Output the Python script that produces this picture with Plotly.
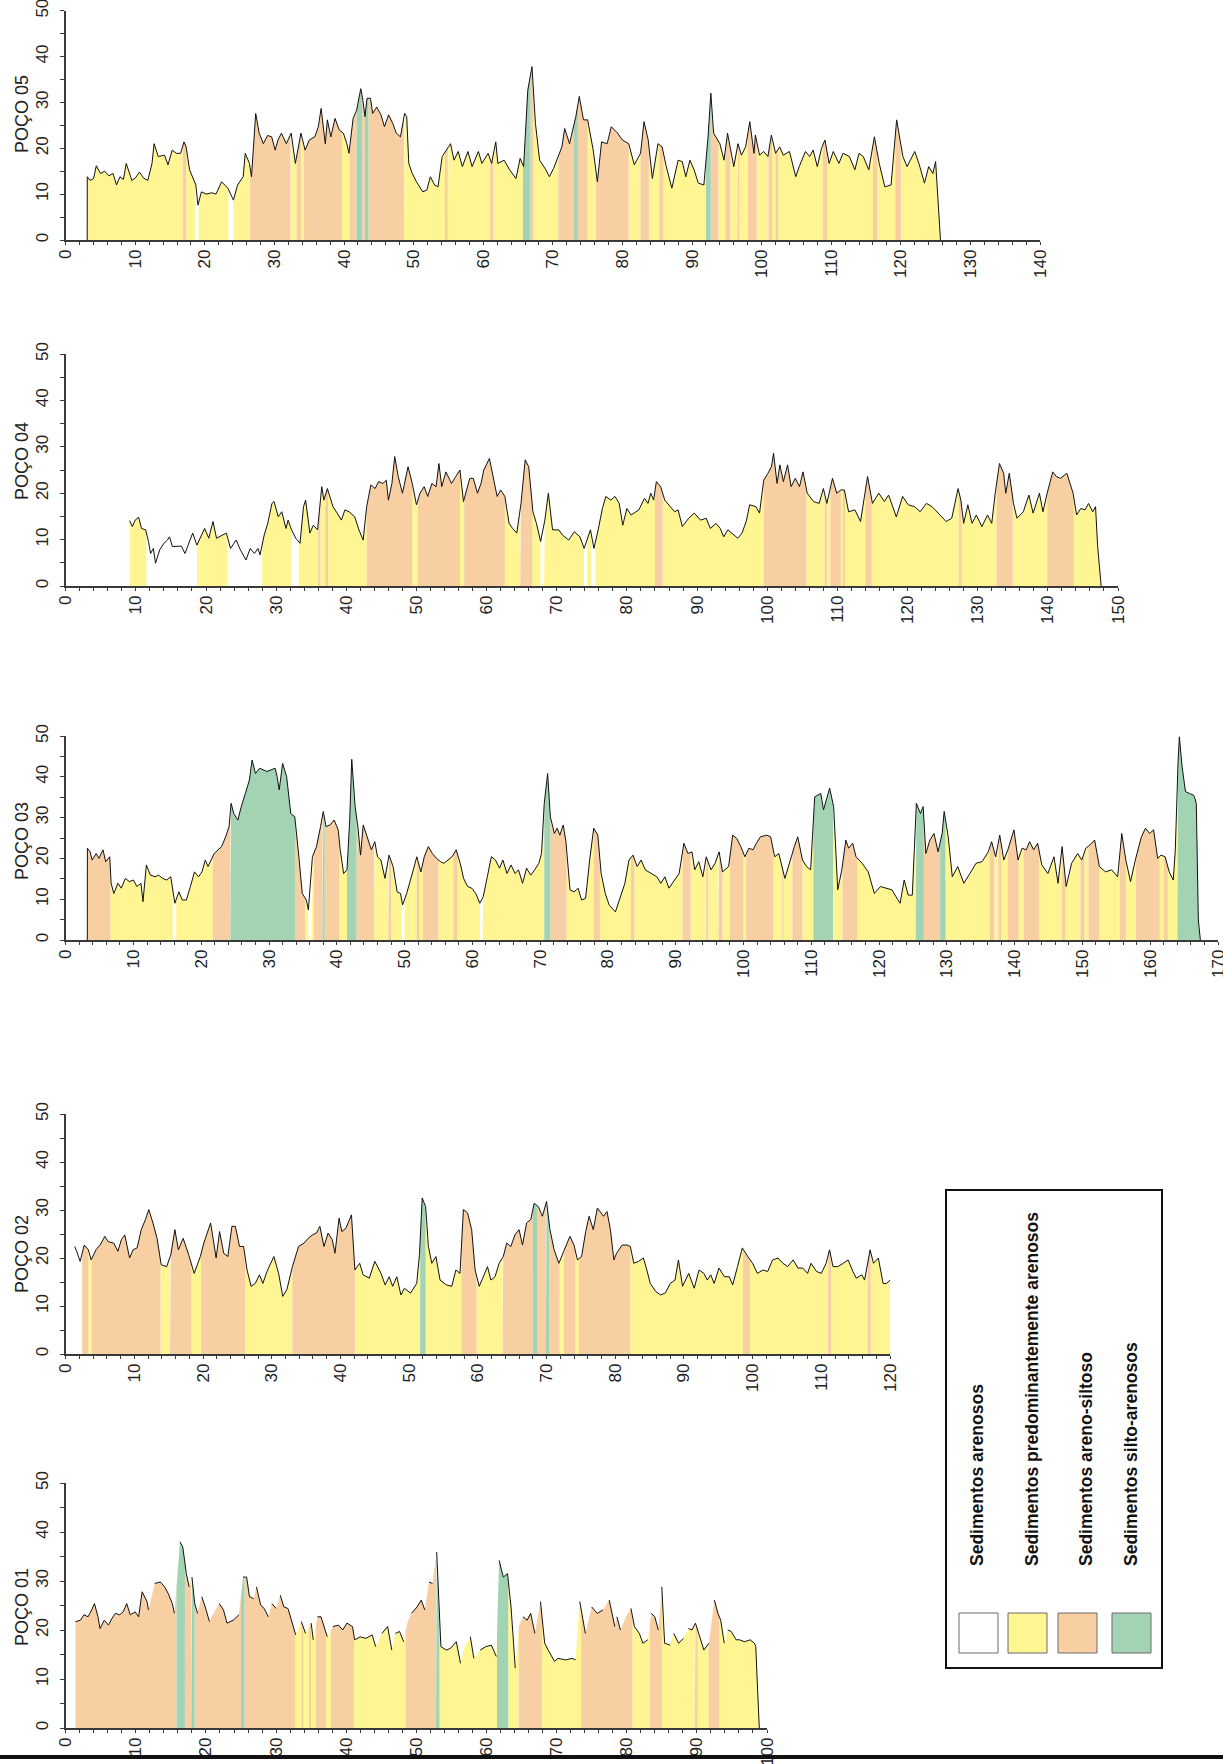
import numpy as np
import plotly.graph_objects as go

W, H = 1223, 1764

wells = ["POÇO 05", "POÇO 04", "POÇO 03", "POÇO 02", "POÇO 01"]
x_max = [140, 150, 170, 120, 100]

# ---------------- data (depth, value) ----------------
p05_depth = [3.09,3.1,3.5,4.0,4.4,5.0,5.6,6.2,6.8,7.3,7.8,8.3,8.7,9.5,10.0,10.6,11.2,11.8,12.4,12.7,13.3,13.9,14.2,14.7,15.3,15.9,16.5,17.0,17.3,17.8,18.4,18.7,19.0,19.5,20.2,21.0,21.6,22.4,23.3,24.1,24.7,25.5,25.8,26.4,26.7,27.3,27.8,28.4,29.0,29.6,30.1,30.5,31.0,31.7,32.4,33.0,33.8,34.4,35.0,35.8,36.3,36.7,37.3,37.6,38.1,38.7,39.3,39.9,40.4,40.7,41.3,41.8,42.4,42.7,43.0,43.3,43.8,44.1,44.7,45.3,45.8,46.4,47.0,47.5,48.1,48.7,49.0,49.3,49.8,50.4,51.3,51.9,52.4,53.0,53.5,54.1,55.0,55.3,55.8,56.4,57.0,57.8,58.4,59.3,59.8,60.7,61.2,61.8,62.1,63.0,63.8,64.7,65.3,65.8,66.4,67.0,67.5,68.1,69.0,69.5,70.1,71.3,71.7,72.4,73.3,73.8,74.4,75.0,75.8,76.4,77.0,77.8,78.4,79.3,80.0,80.9,81.7,82.6,83.1,83.7,84.3,85.1,85.7,86.3,87.1,88.0,88.6,89.1,89.7,90.3,90.9,91.7,92.3,92.7,93.1,94.0,94.6,95.1,96.0,96.6,97.1,97.7,98.3,98.9,99.1,99.7,100.3,100.9,101.4,102.0,102.6,103.1,104.0,104.9,105.4,106.3,106.9,107.4,108.0,108.6,109.1,109.7,110.3,111.1,111.7,112.6,113.4,114.0,114.6,115.4,116.2,116.9,117.7,118.6,119.4,120.3,120.9,122.0,122.6,123.4,124.0,124.6,125.0,125.7]
p05_value = [0,13.8,13,13.4,16.2,14.5,15,14,14.5,12,13.8,13.2,16.7,13,13.5,14.8,13.5,13,16.7,21,18.2,18.5,18.5,16.4,19.6,18.9,18.9,21.4,20.3,15.3,13,12,7.6,10.5,10,10.3,10,12.7,11.3,8.7,12,13.8,18.9,16.7,13.8,27.6,23.3,21,22.8,22.5,19.6,21.8,23.3,21,23.3,16.7,23.3,19.6,21.8,22.5,24.7,28.7,21,26.2,22.5,26.5,24,23.3,21,18.9,26.5,28.3,33,30.5,26.9,30.9,30.9,27.6,29,27.3,24.7,27.3,25.4,23.3,22.5,27.6,26.9,16.7,14.5,12.7,10.5,10.9,13.8,12,11.6,18.2,20.3,21,17.4,19.3,16,19.3,16,19.3,16.7,18.9,16.7,21.4,16.7,17.4,15.3,13.4,17.8,16,32.7,37.8,25.4,17.4,15.3,13.8,15.6,20.3,24.3,21,26.9,31.3,26.2,26.2,19.6,12.7,21.4,21,24.7,23.3,21.8,21,16.4,18.9,25.8,21.8,13.4,21,20.3,16,11.3,17.4,17.1,13.8,17.4,15.3,12.4,12,22.5,32,23.3,21,17.4,23.3,16,21,18.5,20.3,25.8,18.9,22.9,18.5,19.3,18.2,22.9,18.9,20.3,18.5,19.3,13.8,16,19.3,18.2,19.6,16,20,21.8,16.7,19.3,16.7,18.9,18.2,15.3,18.9,18.2,15.3,22.5,16.7,11.6,12,26.2,18.2,16,19.3,16.7,12.4,16,14.5,17.1,0]
p05_bounds = [3.1,16.8,17.3,18.6,19.1,23.4,24.1,26.5,32.3,33.2,33.8,34.2,39.7,40.8,41.8,42.6,43.0,43.5,48.6,54.5,54.9,61.0,61.4,65.7,66.8,67.2,70.8,73.0,73.6,75.0,76.2,80.9,82.6,83.8,85.3,85.9,92.0,92.7,93.8,94.8,95.5,96.5,96.8,98.0,99.3,101.0,101.5,102.0,102.4,108.8,109.4,116.0,116.6,119.2,120.0,125.7]
p05_class = ["Y","O","Y","W","Y","W","Y","O","Y","O","Y","O","Y","O","G","O","G","O","Y","O","Y","O","Y","G","O","Y","O","G","O","Y","O","Y","O","Y","O","Y","G","O","Y","O","Y","O","Y","O","Y","O","Y","O","Y","O","Y","O","Y","O","Y"]

p04_depth = [9.1,9.5,9.9,10.4,10.8,11.4,11.8,12.1,12.5,12.8,13.4,14.0,14.5,14.8,15.2,15.9,16.5,17.0,17.6,18.1,18.7,19.3,19.8,20.4,21.0,21.5,22.4,22.9,23.5,24.3,24.9,25.7,26.3,26.9,27.4,27.7,28.3,28.8,29.4,29.7,30.3,30.8,31.4,31.7,32.2,32.8,33.4,33.9,34.2,34.8,35.3,35.9,36.5,36.8,37.3,38.1,38.7,39.3,39.8,40.4,41.2,41.8,42.4,42.9,43.5,44.1,44.6,45.2,45.7,46.0,46.5,46.9,47.4,48.0,48.8,49.4,50.0,50.5,51.1,51.6,52.2,52.8,53.2,53.6,54.2,55.0,55.6,56.2,56.7,57.6,58.1,58.7,59.2,59.6,60.4,60.9,61.5,62.0,62.6,63.2,63.7,64.3,64.9,65.5,66.0,66.6,67.1,67.7,68.3,68.8,69.4,70.3,70.8,71.7,72.5,73.3,73.9,74.8,75.3,75.9,76.5,77.0,77.7,78.3,78.9,79.4,80.0,80.6,81.7,82.5,83.0,83.4,83.8,84.2,84.8,85.4,86.2,86.8,87.3,87.9,88.8,89.6,90.5,91.3,91.9,92.7,93.3,93.8,94.4,95.3,95.8,96.4,97.0,97.5,98.4,98.9,99.5,100.1,100.6,100.9,101.4,101.8,102.3,102.9,103.4,104.0,104.6,105.1,105.7,106.6,107.4,108.0,108.5,109.3,109.9,110.5,111.0,111.6,112.5,113.3,114.3,115.0,115.9,116.7,117.3,118.4,119.3,120.1,121.0,121.8,122.7,123.5,124.6,125.5,126.3,127.2,127.6,128.0,128.6,129.2,129.8,130.6,131.4,132.0,132.5,133.1,133.7,134.0,134.5,135.1,135.6,136.5,137.3,137.9,138.8,139.3,139.9,140.7,141.2,141.8,142.7,143.6,144.1,144.7,145.3,145.8,146.4,146.8,147.1,147.6]
p04_value = [14.1,12.8,14.2,14.8,12.4,12.1,9.6,7,8.1,4.9,7.8,9.2,9.9,10.6,8.5,8.5,8.6,7,9.2,11.4,8.8,10.6,12.4,10.3,13.9,10.3,11,11.4,8.1,9.9,7.8,5.6,8.1,7,8.1,6.7,11,13.5,17.8,18.2,14.9,16,12.4,14.2,12.1,10.3,9.2,17.1,18.5,11.4,13.1,12.1,21.4,18.5,21,17.1,15.7,14.2,16.4,16,14.9,12.1,9.9,17.1,21.8,21,22.5,22.1,22.8,18.5,22.1,27.9,23.6,20,25.7,22.1,17.5,20,21.4,19.3,22.1,21.4,26.4,21.4,24.6,22.1,23.6,25,18.2,23.2,23.2,20,22.1,25,27.5,23.6,19.3,20.7,19.3,13.5,12.4,11.4,17.8,27.2,25.7,16,13.5,9.6,14.2,20,12.1,12.1,11,9.9,11.7,10.6,8.1,12.1,8.1,12.1,16.7,19.3,18.5,19.3,17.8,13.1,16.7,15.3,16.4,18.9,17.8,20,18.5,22.5,21.4,18.5,17.1,16,16.4,12.8,14.6,15.7,14.2,14.6,12.4,13.5,12.4,10.6,12.1,11,10.3,11.4,13.9,17.5,17.1,15.7,22.8,24.3,25.7,28.6,22.1,26.1,22.5,26.1,21.4,23.2,21.4,24.6,20,18.2,17.8,21,17.8,23.2,20,20.7,20.7,16,16.4,13.9,23.6,17.8,20,18.2,19.6,14.9,19.3,17.5,17.1,16,17.8,17.1,15.3,13.9,14.6,21,18.5,13.5,17.5,13.5,15.3,12.8,15.3,13.5,20,26.4,24.3,20,24.3,17.8,14.6,16,19.6,15.7,20,16,20,24.6,23.6,23.2,24.3,20,15.3,16.7,16.4,17.8,16,17.1,8.5,0]
p04_bounds = [9.1,11.5,18.7,23.0,28.0,32.2,33.2,36.0,36.3,37.0,37.4,42.9,49.4,50.2,56.2,56.8,62.6,64.8,66.5,67.7,68.2,73.9,74.3,74.9,75.5,84.0,85.1,99.5,105.6,108.2,108.5,109.0,110.5,110.8,111.1,114.0,114.9,127.3,127.7,132.7,135.0,139.9,143.7,147.6]
p04_class = ["Y","W","Y","W","Y","W","Y","O","Y","O","Y","O","Y","O","Y","O","Y","O","Y","W","Y","W","Y","W","Y","O","Y","O","Y","O","Y","O","Y","O","Y","O","Y","O","Y","O","Y","O","Y"]

p03_depth = [3.19,3.2,3.6,3.9,4.5,4.9,5.5,5.9,6.5,6.7,7.1,7.7,8.2,8.8,9.4,10.0,10.5,11.1,11.4,11.9,12.5,13.2,13.7,14.3,14.9,15.5,16.1,16.7,17.2,17.8,18.4,19.0,19.6,20.1,20.6,21.0,21.9,22.5,23.0,23.6,24.1,24.4,24.8,25.4,25.9,26.5,27.1,27.5,28.0,28.6,29.1,29.7,30.3,30.9,31.2,31.5,32.0,32.6,33.2,33.8,34.4,34.9,35.5,35.8,36.4,37.0,37.6,38.0,38.4,39.0,39.6,40.2,40.5,41.0,41.5,41.9,42.2,42.7,43.1,43.5,43.9,44.5,45.1,45.6,46.0,46.5,47.1,47.7,48.3,48.9,49.4,49.7,50.3,51.2,51.8,52.4,52.9,53.5,54.1,54.7,55.3,55.8,56.4,57.0,57.6,58.2,58.7,59.3,59.9,60.5,61.1,61.6,62.2,62.8,63.4,64.0,64.5,65.1,65.7,66.3,66.8,67.4,68.0,68.6,69.2,69.8,70.2,70.6,71.1,71.5,72.1,72.5,72.9,73.4,73.8,74.4,75.0,75.6,76.1,76.7,77.3,77.9,78.5,79.0,79.6,80.2,81.1,81.6,82.5,83.1,83.7,84.3,84.9,85.5,86.4,87.2,87.8,88.4,89.0,89.9,90.5,91.2,91.8,92.4,92.8,93.4,94.0,94.5,95.2,95.8,96.4,96.9,97.8,98.4,99.0,99.6,100.2,100.8,101.4,101.9,102.5,103.4,104.0,104.6,105.2,106.1,106.6,107.5,108.0,108.7,109.3,109.9,110.5,111.4,111.8,112.2,112.7,113.3,113.9,114.5,115.1,115.5,116.1,116.6,117.5,118.4,119.3,120.2,121.1,121.9,122.5,123.1,123.7,124.3,124.9,125.5,126.1,126.5,126.9,127.5,128.1,128.7,129.3,129.6,130.2,130.8,131.6,132.5,133.4,134.3,135.2,136.1,136.6,137.2,137.8,138.4,139.0,139.9,140.5,141.1,141.7,142.2,142.8,143.4,144.0,144.9,145.8,146.4,147.0,147.6,148.4,149.3,149.9,150.5,151.1,151.8,152.5,153.4,154.3,155.2,155.8,156.4,157.1,157.8,158.7,159.3,159.9,160.5,161.1,161.6,162.2,162.8,163.4,163.7,164.1,164.3,164.7,165.2,165.8,166.4,166.6,166.8,167.1,167.4]
p03_value = [0,22.5,21.6,19.6,21.2,20,22.1,19.2,20.4,13.9,11.4,13.9,12.7,15.1,14.3,14.7,13.1,13.9,9.4,18.4,15.9,15.5,15.9,15.1,14.7,15.5,9,11.8,9.8,9.8,13.1,16.7,15.5,16.7,19.6,18,21.2,22.1,22.9,25.3,27.8,33.5,31,29.4,32.7,35.9,39.2,44.1,40.8,42.1,41.7,41.3,41.7,42.1,40,36.8,43.3,40,31,30.2,20.4,11.4,9.8,7.4,20.4,22.9,27.8,31.5,27.8,28.2,29.4,27,22.1,16.3,17.2,29.4,44.3,32.7,27.8,20.8,28.2,24.9,22.1,24.1,20.4,19.6,15.1,20.8,18,11.8,11.4,8.6,11.4,16.7,20.4,16.7,20.4,22.9,21.2,20,19.2,18.8,19.6,20.4,22.1,18.8,15.1,13.1,12.7,11.4,9,10.6,15.5,20.4,19.6,17.6,19.6,16.3,18.4,16.3,17.2,13.9,17.6,15.9,17.2,18.8,21.2,33.5,40.8,30.2,26.1,27.4,25.7,28.2,24.1,12.3,11.8,12.7,9.8,10.2,19.6,27.4,25.7,16.3,11.4,8.5,6.9,9.4,13.9,19.6,20.8,18,19.6,17.2,16.3,15.5,13.9,15.5,12.7,14.7,16.3,23.7,21.2,21.6,17.2,19.2,15.5,20.4,17.2,18.8,21.6,16.7,18,25.7,24.9,22.9,20.4,22.5,22.1,23.7,25.3,25.7,25.3,20.4,21.2,15.1,18,22.9,25.3,19.6,18,17.2,35.1,35.9,31.9,34.3,37.2,32.7,12.3,17.2,24.5,22.5,23.7,20.4,18.8,16.7,11.4,13.1,12.7,12.3,10.6,9,14.7,11,11,33.5,31,32.7,21.2,24.5,26.1,21.6,26.1,31.5,25.3,15.5,18,13.9,16.3,18.8,19.2,21.6,24.1,20.4,25.7,19.6,22.1,27,19.6,22.5,22.1,24.1,22.1,23.7,18.4,16.3,20.4,13.9,22.9,13.1,18.8,21.2,19.6,22.5,23.3,24.5,18,16.7,17.2,15.5,26.1,19.6,14.3,19.6,25.3,27.4,26.1,27,20,20.8,20.4,16.7,14.7,22.1,43.3,49.8,42.5,36.4,35.9,35.5,34.7,33.5,4.9,0]
p03_bounds = [3.2,6.6,15.8,16.3,21.7,24.3,33.9,35.3,35.8,36.3,36.6,37.9,38.2,40.4,41.5,42.9,45.5,47.6,48.0,49.6,50.0,51.8,52.2,52.7,55.0,57.2,57.8,61.1,61.5,70.6,71.5,73.9,77.9,78.8,83.4,83.9,91.0,92.2,94.5,94.8,96.3,96.9,98.0,100.0,100.4,104.4,105.7,105.9,107.2,108.7,110.3,113.2,114.6,116.8,125.4,126.6,129.0,129.8,136.3,137.0,137.6,138.0,139.0,140.6,141.3,143.6,147.0,147.5,149.7,150.3,150.9,152.5,155.5,156.4,157.9,161.4,162.0,162.6,164.0,167.4]
p03_class = ["O","Y","W","Y","O","G","O","Y","W","Y","O","G","O","Y","G","O","Y","O","Y","W","Y","O","Y","O","Y","O","Y","W","Y","G","O","Y","O","Y","O","Y","O","Y","O","Y","O","Y","O","Y","O","Y","O","Y","O","Y","G","Y","O","Y","G","O","G","Y","O","Y","O","Y","O","Y","O","Y","O","Y","O","Y","O","Y","O","Y","O","Y","O","Y","G"]

p02_depth = [1.3,1.6,2.1,2.7,3.3,3.7,4.4,5.0,5.7,6.2,7.0,7.6,8.1,8.6,9.3,9.8,10.4,11.0,11.6,12.1,12.7,13.3,13.9,14.7,15.3,15.9,16.4,17.1,17.9,18.7,19.6,20.1,21.1,21.6,21.9,22.4,23.0,23.6,24.2,24.7,25.3,25.9,26.4,27.0,27.6,28.2,28.7,29.3,29.9,30.3,31.0,31.6,32.2,33.0,33.9,34.7,35.3,35.9,36.5,37.0,37.6,38.2,38.8,39.2,39.8,40.2,40.8,41.6,42.1,42.8,43.3,44.2,45.0,45.9,46.5,47.1,47.6,48.2,48.8,49.3,50.2,51.1,51.5,51.9,52.4,52.8,53.3,53.9,54.5,55.4,56.2,56.8,57.4,57.9,58.5,59.1,59.6,60.2,60.8,61.4,61.9,62.5,63.1,63.7,64.2,64.8,65.4,66.0,66.5,67.1,67.7,68.2,68.8,69.4,70.0,70.5,71.1,71.8,72.5,73.4,74.0,74.5,75.1,75.7,76.2,76.8,77.4,78.3,78.8,79.3,79.8,80.2,81.0,81.7,82.2,82.7,83.4,84.1,84.6,85.1,85.9,86.6,87.3,88.0,88.7,89.2,89.8,90.2,90.7,91.5,92.2,92.9,93.4,93.9,94.4,95.1,95.9,96.6,97.1,97.8,98.5,99.3,100.0,100.7,101.5,102.2,102.9,103.7,104.4,105.1,105.9,106.6,107.3,108.0,108.5,109.3,110.0,110.7,111.2,111.7,112.4,113.2,113.9,114.6,115.1,115.9,116.3,117.1,117.6,118.3,119.0,119.5,120.0]
p02_value = [22.4,21.4,19.3,22.7,21.7,19.6,21.7,22.7,24.5,23.4,23.1,21.4,23.8,24.8,20,21.7,22.1,25.9,28,30.1,27.3,24.1,18.6,18.2,20.7,25.9,21.7,24.1,20.7,16.8,20.3,23.1,27.3,22.4,20,25.5,21,20.3,26.6,26.6,22.4,22.4,17.5,14.1,14.7,16.5,14.7,17.2,18.9,20.3,16.8,12,13.4,18.2,22.4,23.1,24.1,24.8,25.2,26.6,22.4,25.2,23.8,21,28.3,25.5,26.2,29,17.5,18.9,16.5,15.8,19.3,16.8,14.4,16.1,14.1,16.1,12.3,13.7,12.7,14.7,20.7,32.5,30.7,22.4,18.9,20.3,15.4,14.4,14.1,17.5,16.8,30.1,29.4,25.9,17.5,14.1,16.1,18.2,15.4,16.1,18.9,20.3,23.1,22.4,24.8,25.9,22.7,27.3,28,31.4,30.7,28.7,31.8,25.9,21.7,18.9,21.4,24.5,22.7,19.6,20.3,25.5,28.7,25.9,30.4,28.7,29.7,25.9,19.6,21,22.7,22.7,22.4,18.9,19.3,20,17.5,14.7,13,12.3,12.7,14.7,15.4,19.6,14.1,15.4,16.8,13.7,17.5,16.8,15.4,16.5,14.7,17.9,16.1,16.1,14.4,18.2,22.1,20.3,18.9,16.8,17.5,17.2,19.6,20,18.9,18.2,19.6,17.9,17.9,16.8,18.9,17.2,16.8,18.9,21.7,18.2,18.2,18.9,19.6,17.2,15.8,16.5,15.4,21.7,18.9,20,14.7,14.7,15.4]
p02_bounds = [1.3,2.4,3.3,3.8,13.8,15.2,18.3,19.7,26.1,33.0,42.1,51.6,52.4,57.6,59.8,63.6,68.0,68.7,69.9,70.4,71.9,72.5,74.2,74.7,82.2,98.6,99.6,111.0,111.4,116.8,117.2,120.0]
p02_class = ["W","O","Y","O","Y","O","Y","O","Y","O","Y","G","Y","O","Y","O","G","O","G","O","Y","O","Y","O","Y","O","Y","O","Y","O","Y"]

p01_depth = [1.4,2.1,2.6,3.2,3.7,4.1,4.6,4.9,5.5,6.1,6.6,7.1,7.7,8.2,8.7,9.2,9.9,10.4,10.9,11.6,11.8,12.7,13.5,14.1,14.6,15.2,15.5,15.8,16.3,16.7,17.2,17.6,18.0,18.4,18.8,19.4,19.9,20.5,21.1,21.9,22.5,23.0,23.9,24.7,25.3,25.8,26.2,26.8,27.2,27.8,28.3,28.9,29.4,30.0,30.6,31.1,31.7,32.2,32.8,33.6,34.2,35.0,35.3,35.9,36.4,37.3,38.1,38.9,39.5,40.1,40.9,41.2,42.0,42.8,43.7,44.2,45.1,45.9,46.5,47.0,47.6,48.2,48.7,49.3,50.1,50.7,51.2,51.8,52.3,52.9,53.2,53.5,54.3,54.9,55.7,56.3,56.8,57.7,58.2,59.1,59.9,60.7,61.4,61.8,62.4,63.0,63.5,63.8,64.1,64.6,65.2,65.8,66.3,66.9,67.7,68.3,68.8,69.7,70.2,71.3,72.2,72.7,73.3,74.1,75.0,75.8,76.6,77.5,78.3,78.6,79.1,79.9,80.6,81.1,81.8,82.3,83.0,83.5,84.0,84.5,85.0,85.4,86.2,86.7,87.4,88.1,88.8,89.3,89.8,90.3,91.0,91.7,92.5,93.0,93.4,93.9,94.4,94.9,95.6,96.1,96.8,97.6,98.2,98.4,98.6,98.9]
p01_value = [21.7,22,23.1,22.7,24.1,25.4,22.7,20.3,22,21,22.4,23.4,23.1,23.7,25.4,23.1,23.7,22.7,27.8,25.8,24.1,29.5,29.8,28.8,27.5,25.4,23.4,28.8,38,36.9,31.5,28.8,30.8,25.4,23.4,26.8,24.7,21.7,23.4,25.4,24.1,21.4,22,23.1,30.8,30.8,26.8,26.4,28.8,25.1,24.4,22.7,25.4,24.4,27.1,24.7,24.4,22,19,21.7,19.3,21.4,18,22.7,22.7,18.6,20.7,21,20,21.4,20.7,18,18.6,18.3,19,16.6,19.3,20.7,15.9,19.3,19.7,17.6,21.4,23.4,24.7,26.1,24.1,29.8,29.5,35.9,25.4,16.6,15.9,16.3,17.6,13.2,16.3,18.6,14.2,15.9,16.6,16.9,14.6,34.2,30.8,31.5,24.7,18.6,12.2,20.7,22.7,22,23.4,19.3,25.8,17.3,15.9,13.6,14.2,13.9,14.2,13.9,25.8,19.3,24.7,23.4,24.1,26.1,20.7,22.7,20,22.7,24.4,20.7,19.3,17.3,18,23.4,22.7,20,28.8,17.3,16.9,19.3,17.3,18.3,20.3,20,21.4,19.3,15.9,17.3,26.1,23.4,22,17.3,20,19.7,18,18,17.6,18,17.3,16.6,9.8,0]
p01_bounds = [1.4,15.8,17.0,17.9,18.4,25.0,25.5,32.7,33.6,33.9,34.7,35.0,35.7,37.1,37.8,41.1,48.5,52.8,53.3,61.5,63.1,64.6,67.9,73.5,80.8,83.3,85.0,89.7,90.1,91.7,93.2,98.9]
p01_class = ["O","G","O","G","O","G","O","Y","O","Y","O","Y","O","Y","O","Y","O","G","Y","G","Y","O","Y","O","Y","O","Y","O","Y","O","Y"]

legend_labels = ["Sedimentos arenosos", "Sedimentos predominantemente arenosos",
                 "Sedimentos areno-siltoso", "Sedimentos silto-arenosos"]
legend_codes = ["W", "Y", "O", "G"]

# ---------------- styling ----------------
colors = {"W": "#FFFFFF", "Y": "#FFF593", "O": "#F7CFA3", "G": "#A2D4B4"}
FONT = "Liberation Sans, Arial, sans-serif"
AXC = "#3a3a3a"

series = [
    (p05_depth, p05_value, p05_bounds, p05_class),
    (p04_depth, p04_value, p04_bounds, p04_class),
    (p03_depth, p03_value, p03_bounds, p03_class),
    (p02_depth, p02_value, p02_bounds, p02_class),
    (p01_depth, p01_value, p01_bounds, p01_class),
]
# the POÇO 01 trace is drawn as broken strokes (rising steps left open)
broken_line = [False, False, False, False, True]

# panel geometry in pixels: x of value 0, x of value xmax, y of value 0, y of value 50
geom = [
    (65.7, 1040, 240, 10.7),
    (65.7, 1118, 586, 354),
    (65.7, 1218, 940, 736),
    (65.7, 890, 1354, 1114),
    (65.7, 767, 1728, 1483),
]
title_y = [114, 461, 841, 1254, 1607]

def px(x):
    return x / W

def py(y):
    return 1 - y / H

fig = go.Figure()

def polys(d, v, bounds, classes, cls):
    d = np.asarray(d, float)
    v = np.asarray(v, float)
    xs, ys = [], []
    for a, b, c in zip(bounds[:-1], bounds[1:], classes):
        if c != cls:
            continue
        inner = d[(d > a) & (d < b)].tolist()
        sx = [a] + inner + [b]
        sy = np.interp(sx, d, v).tolist()
        xs += [a] + sx + [b, a, None]
        ys += [0] + sy + [0, 0, None]
    return xs, ys

def broken(d, v, jump=1.5):
    xs, ys = [d[0]], [v[0]]
    for k in range(1, len(d)):
        if v[k] - v[k - 1] > jump and d[k] > 12:
            xs.append(None)
            ys.append(None)
        xs.append(d[k])
        ys.append(v[k])
    return xs, ys

layout_axes = {}
for i, ((d, v, bnd, cls), (x0, x1, y0, y50)) in enumerate(zip(series, geom)):
    n = i + 1
    xa = "x" if n == 1 else f"x{n}"
    ya = "y" if n == 1 else f"y{n}"
    for c in ["W", "Y", "O", "G"]:
        xs, ys = polys(d, v, bnd, cls, c)
        if not xs:
            continue
        fig.add_trace(go.Scatter(x=xs, y=ys, mode="lines", fill="toself",
                                 fillcolor=colors[c], line=dict(width=0),
                                 hoverinfo="skip", showlegend=False,
                                 xaxis=xa, yaxis=ya))
    lx, ly = broken(d, v) if broken_line[i] else (d, v)
    fig.add_trace(go.Scatter(x=lx, y=ly, mode="lines", connectgaps=False,
                             line=dict(color="#111111", width=1),
                             showlegend=False, xaxis=xa, yaxis=ya))
    xm = x_max[i]
    layout_axes["xaxis" if n == 1 else f"xaxis{n}"] = dict(
        domain=[px(x0), px(x1)], range=[0, xm], anchor=ya, automargin=False,
        showline=True, linecolor=AXC, linewidth=1.5, showgrid=False, zeroline=False,
        ticks="outside", tickcolor=AXC, ticklen=3, tickwidth=1.2,
        tickvals=list(range(0, xm + 1, 10)), tickangle=-90, ticklabelstandoff=-2,
        ticklabeloverflow="allow",
        tickfont=dict(family=FONT, size=17, color="#222222"),
        minor=dict(dtick=2, tick0=0, ticks="outside", ticklen=3, tickcolor=AXC, tickwidth=1),
    )
    layout_axes["yaxis" if n == 1 else f"yaxis{n}"] = dict(
        domain=[py(y0), py(y50)], range=[0, 50], anchor=xa, automargin=False,
        showline=True, linecolor=AXC, linewidth=1.5, showgrid=False, zeroline=False,
        ticks="outside", tickcolor=AXC, ticklen=4, tickwidth=1.2,
        tickvals=[0, 10, 20, 30, 40, 50], tickangle=-90, ticklabelstandoff=5,
        ticklabeloverflow="allow",
        tickfont=dict(family=FONT, size=17, color="#222222"),
        minor=dict(dtick=5, tick0=0, ticks="outside", ticklen=4, tickcolor=AXC, tickwidth=1),
    )

annotations = []
for name, ty in zip(wells, title_y):
    annotations.append(dict(text=name, x=px(22), y=py(ty), xref="paper", yref="paper",
                            showarrow=False, textangle=-90, xanchor="center", yanchor="middle",
                            font=dict(family=FONT, size=18, color="#222222")))

shapes = []
# bottom rule
shapes.append(dict(type="rect", xref="paper", yref="paper", x0=0, x1=1,
                   y0=py(1759), y1=py(1755), fillcolor="#111111", line=dict(width=0)))
# legend box
shapes.append(dict(type="rect", xref="paper", yref="paper", x0=px(946), x1=px(1162),
                   y0=py(1668), y1=py(1190), line=dict(color="#111111", width=2),
                   fillcolor="rgba(0,0,0,0)"))
sw_x = [(959, 998), (1008, 1047), (1058, 1097), (1112, 1151)]
txt_x = [977, 1032, 1086, 1131]
for (a, b), tx, lab, code in zip(sw_x, txt_x, legend_labels, legend_codes):
    shapes.append(dict(type="rect", xref="paper", yref="paper", x0=px(a), x1=px(b),
                       y0=py(1653), y1=py(1613), line=dict(color="#6a6a6a", width=1),
                       fillcolor=colors[code]))
    annotations.append(dict(text="<b>" + lab + "</b>", x=px(tx), y=py(1568),
                            xref="paper", yref="paper", showarrow=False, textangle=-90,
                            xanchor="center", yanchor="bottom",
                            font=dict(family=FONT, size=17.5, color="#111111")))

fig.update_layout(width=W, height=H, margin=dict(l=0, r=0, t=0, b=0),
                  paper_bgcolor="white", plot_bgcolor="white",
                  showlegend=False, annotations=annotations, shapes=shapes,
                  **layout_axes)

# remove the browser's default page margin so the figure sits at the window origin
fig.write_html("out.html", config={"displayModeBar": False},
               post_script="document.body.style.margin='0';document.body.style.overflow='hidden';")
